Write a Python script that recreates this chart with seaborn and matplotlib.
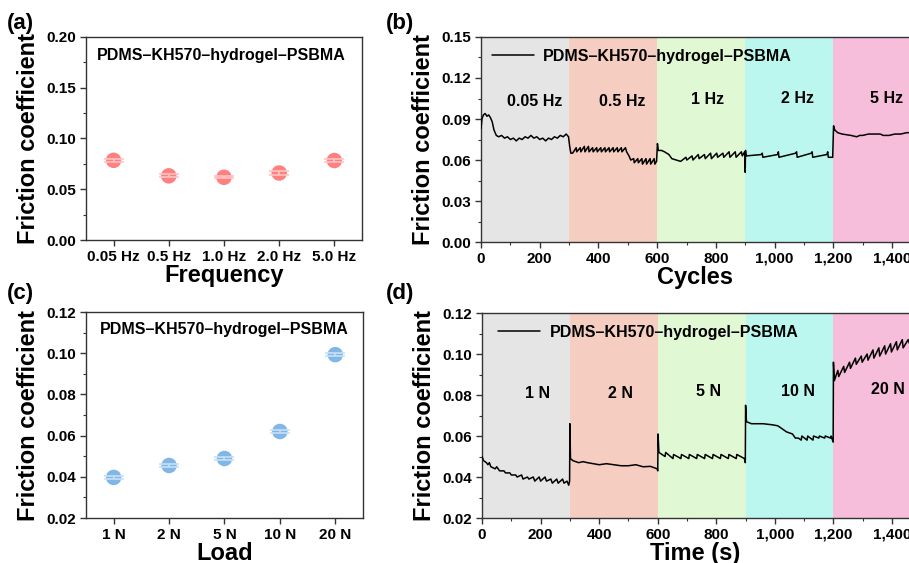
import numpy as np
import pandas as pd
import matplotlib
matplotlib.use('Agg')
import matplotlib.pyplot as plt
import matplotlib.ticker as mticker
import seaborn as sns

sns.set_theme(style='ticks')
plt.rcParams['font.family'] = ['Liberation Sans', 'DejaVu Sans']
plt.rcParams['font.weight'] = 'bold'
plt.rcParams['axes.labelweight'] = 'bold'
plt.rcParams['text.color'] = 'black'
plt.rcParams['axes.labelcolor'] = 'black'
plt.rcParams['xtick.labelcolor'] = 'black'
plt.rcParams['ytick.labelcolor'] = 'black'

sample_name = 'PDMS\u2013KH570\u2013hydrogel\u2013PSBMA'

# (a) friction vs frequency
freq_labels = ['0.05 Hz', '0.5 Hz', '1.0 Hz', '2.0 Hz', '5.0 Hz']
freq_cof = [0.0785, 0.0632, 0.0618, 0.0660, 0.0783]
freq_err = [0.0015, 0.0015, 0.0010, 0.0016, 0.0012]

# (c) friction vs load
load_labels = ['1 N', '2 N', '5 N', '10 N', '20 N']
load_cof = [0.0397, 0.0455, 0.0489, 0.0620, 0.0993]
load_err = [0.0006, 0.0006, 0.0008, 0.0006, 0.0006]

# (b) friction trace vs cycles
cyc_x = [0, 3, 8, 14, 20, 26, 32, 38, 44, 52, 60, 70, 80, 90, 100, 110, 120, 130, 140, 150,
         160, 170, 180, 190, 200, 210, 220, 230, 240, 250, 260, 270, 280, 290, 298, 302, 306,
         312, 324, 326, 338, 340, 352, 354, 366, 368, 380, 382, 394, 396, 408, 410, 422, 424,
         436, 438, 450, 452, 464, 466, 478, 480, 492, 496, 504, 510, 520, 522, 534, 536, 548,
         550, 562, 564, 576, 578, 590, 592, 598,
         601, 604, 615, 625, 640, 650, 665, 680, 698, 701, 719, 722, 740, 743, 761, 764, 782,
         785, 803, 806, 824, 827, 845, 848, 866, 869, 887, 890, 898,
         900, 901, 903, 955, 958, 960, 1010, 1013, 1015, 1072, 1075, 1077, 1125, 1128, 1130,
         1178, 1181, 1183, 1198,
         1201, 1205, 1215, 1230, 1260, 1280, 1290, 1300, 1320, 1340, 1360, 1370, 1390, 1410,
         1430, 1450, 1460]
cyc_y = [0.083, 0.090, 0.093, 0.094, 0.092, 0.093, 0.091, 0.088, 0.082, 0.078, 0.077, 0.078,
         0.076, 0.077, 0.075, 0.076, 0.074, 0.076, 0.075, 0.077, 0.076, 0.078, 0.076, 0.077,
         0.075, 0.076, 0.074, 0.076, 0.075, 0.077, 0.076, 0.078, 0.077, 0.079, 0.077, 0.070,
         0.065,
         0.065, 0.069, 0.066, 0.069, 0.066, 0.070, 0.066, 0.070, 0.066, 0.069, 0.066, 0.069,
         0.066, 0.069, 0.066, 0.069, 0.066, 0.069, 0.066, 0.069, 0.066, 0.069, 0.066, 0.069,
         0.066, 0.069, 0.066, 0.063, 0.060, 0.061, 0.058, 0.061, 0.058, 0.061, 0.057, 0.061,
         0.057, 0.061, 0.057, 0.061, 0.057, 0.059,
         0.072, 0.067, 0.067, 0.066, 0.064, 0.061, 0.060, 0.059, 0.062, 0.060, 0.063, 0.060,
         0.064, 0.061, 0.064, 0.061, 0.065, 0.061, 0.065, 0.062, 0.065, 0.062, 0.066, 0.062,
         0.066, 0.062, 0.066, 0.063, 0.066,
         0.051, 0.067, 0.063, 0.064, 0.065, 0.062, 0.064, 0.066, 0.062, 0.065, 0.066, 0.062,
         0.065, 0.066, 0.062, 0.064, 0.066, 0.062, 0.062,
         0.085, 0.082, 0.080, 0.079, 0.078, 0.077, 0.078, 0.078, 0.079, 0.079, 0.079, 0.078,
         0.078, 0.079, 0.079, 0.080, 0.080]

# (d) friction trace vs time
time_x = [0, 5, 15, 20, 25, 30, 45, 50, 60, 75, 80, 95, 100, 115, 120, 135, 140, 155, 160, 175,
          180, 195, 200, 215, 220, 235, 240, 255, 260, 275, 280, 290, 296, 299,
          300, 302, 310, 330, 345, 360, 380, 400, 425, 450, 475, 500, 525, 550, 575, 598,
          600, 601, 604, 625, 627, 652, 654, 679, 681, 706, 708, 733, 735, 760, 762, 787, 789,
          814, 816, 841, 843, 868, 870, 896, 899,
          900, 903, 920, 960, 990, 1010, 1020, 1030, 1040, 1050, 1060, 1070, 1080, 1090, 1092,
          1110, 1112, 1130, 1132, 1150, 1152, 1170, 1172, 1190, 1192, 1199,
          1200, 1203, 1215, 1218, 1235, 1238, 1255, 1258, 1275, 1278, 1295, 1298, 1315, 1318,
          1335, 1338, 1355, 1358, 1375, 1378, 1395, 1398, 1415, 1418, 1435, 1438, 1455, 1460]
time_y = [0.050, 0.048, 0.047, 0.046, 0.047, 0.045, 0.044, 0.045, 0.043, 0.043, 0.042, 0.042,
          0.041, 0.041, 0.040, 0.041, 0.039, 0.040, 0.039, 0.040, 0.038, 0.040, 0.038, 0.040,
          0.038, 0.039, 0.037, 0.039, 0.037, 0.039, 0.037, 0.038, 0.036, 0.038,
          0.066, 0.049, 0.048, 0.047, 0.0475, 0.047, 0.0465, 0.046, 0.0465, 0.046, 0.0455,
          0.0455, 0.046, 0.045, 0.0452, 0.044,
          0.043, 0.061, 0.052, 0.050, 0.052, 0.049, 0.051, 0.049, 0.051, 0.049, 0.051, 0.049,
          0.051, 0.049, 0.051, 0.049, 0.051, 0.049, 0.051, 0.049, 0.051, 0.049, 0.051, 0.049,
          0.047,
          0.075, 0.067, 0.066, 0.066, 0.0655, 0.065, 0.064, 0.063, 0.062, 0.0615, 0.061, 0.059,
          0.059, 0.058, 0.060, 0.058, 0.060, 0.058, 0.060, 0.059, 0.060, 0.059, 0.060, 0.059,
          0.060, 0.057,
          0.096, 0.087, 0.092, 0.089, 0.094, 0.091, 0.096, 0.093, 0.098, 0.095, 0.099, 0.096,
          0.100, 0.097, 0.102, 0.098, 0.103, 0.099, 0.104, 0.100, 0.105, 0.101, 0.106, 0.102,
          0.107, 0.103, 0.107, 0.105]

stage_edges = [0, 300, 600, 900, 1200, 1500]
stage_colors = ['#e5e5e5', '#f6cdc1', '#e1f8d4', '#bcf7ef', '#f7bedb']
freq_stage = ['0.05 Hz', '0.5 Hz', '1 Hz', '2 Hz', '5 Hz']
freq_stage_pos = [(184, 0.1025), (482, 0.1025), (773, 0.1045), (1077, 0.1048), (1380, 0.1052)]
load_stage = ['1 N', '2 N', '5 N', '10 N', '20 N']
load_stage_pos = [(191, 0.0805), (472, 0.0808), (774, 0.0815), (1078, 0.0815), (1385, 0.0828)]

fig = plt.figure(figsize=(9.09, 5.63), dpi=100)
ax_a = fig.add_axes([0.0946, 0.5737, 0.3036, 0.3606])
ax_b = fig.add_axes([0.5292, 0.5701, 0.4708, 0.3642])
ax_c = fig.add_axes([0.0946, 0.0799, 0.3047, 0.3659])
ax_d = fig.add_axes([0.5303, 0.0799, 0.4697, 0.3641])

tick_fs = 11
label_fs = 17


def style_axes(ax):
    for side in ['top', 'bottom', 'left', 'right']:
        ax.spines[side].set_color('#333333')
        ax.spines[side].set_linewidth(1.0)
    ax.tick_params(which='major', direction='out', length=4, width=1, colors='#333333',
                   labelsize=tick_fs, labelcolor='black', pad=3)
    ax.tick_params(which='minor', direction='out', length=2.5, width=0.8, colors='#333333')
    ax.tick_params(top=False, right=False, which='both')
    for lab in ax.get_xticklabels() + ax.get_yticklabels():
        lab.set_fontweight('bold')
        lab.set_color('black')


def point_panel(ax, labels, vals, errs, color, light, ylim, ystep, yfmt, xlabel):
    df = pd.DataFrame({'cat': labels, 'cof': vals})
    sns.scatterplot(data=df, x='cat', y='cof', ax=ax, color=color, s=125,
                    edgecolor='none', zorder=3, legend=False)
    ax.errorbar(range(len(labels)), vals, yerr=errs, fmt='none', ecolor=light,
                elinewidth=1.2, capsize=7, capthick=1.2, zorder=4)
    ax.set_xlim(-0.5, len(labels) - 0.5)
    ax.set_ylim(*ylim)
    ax.yaxis.set_major_locator(mticker.MultipleLocator(ystep))
    ax.yaxis.set_minor_locator(mticker.MultipleLocator(ystep / 2))
    ax.yaxis.set_major_formatter(mticker.FormatStrFormatter(yfmt))
    ax.set_xlabel(xlabel, fontsize=label_fs, fontweight='bold', labelpad=0)
    ax.set_ylabel('Friction coefficient', fontsize=label_fs, fontweight='bold', labelpad=5)
    style_axes(ax)


point_panel(ax_a, freq_labels, freq_cof, freq_err, '#ff8080', '#ffc4c4',
            (0, 0.2), 0.05, '%.2f', 'Frequency')
ax_a.text(0.04, 0.91, sample_name, transform=ax_a.transAxes, fontsize=11.5,
          fontweight='bold', va='center', ha='left')

point_panel(ax_c, load_labels, load_cof, load_err, '#80b7e6', '#c8e0f5',
            (0.02, 0.12), 0.02, '%.2f', 'Load')
ax_c.text(0.05, 0.917, sample_name, transform=ax_c.transAxes, fontsize=11.5,
          fontweight='bold', va='center', ha='left')


def trace_panel(ax, xs, ys, ylim, ystep, xlabel, stage_names, stage_pos, legend_x):
    for i in range(len(stage_colors)):
        ax.axvspan(stage_edges[i], stage_edges[i + 1], color=stage_colors[i], lw=0, zorder=0)
    df = pd.DataFrame({'x': xs, 'y': ys})
    sns.lineplot(data=df, x='x', y='y', ax=ax, color='black', lw=1.1, sort=False,
                 estimator=None, label=sample_name, zorder=3)
    for name, (px, py) in zip(stage_names, stage_pos):
        ax.text(px, py, name, fontsize=11.5, fontweight='bold', ha='center', va='center')
    ax.set_xlim(0, 1458)
    ax.set_ylim(*ylim)
    ax.xaxis.set_major_locator(mticker.MultipleLocator(200))
    ax.xaxis.set_minor_locator(mticker.MultipleLocator(100))
    ax.xaxis.set_major_formatter(mticker.FuncFormatter(lambda v, p: f'{v:,.0f}'))
    ax.yaxis.set_major_locator(mticker.MultipleLocator(ystep))
    ax.yaxis.set_minor_locator(mticker.MultipleLocator(ystep / 2))
    ax.yaxis.set_major_formatter(mticker.FormatStrFormatter('%.2f'))
    ax.set_xlabel(xlabel, fontsize=label_fs, fontweight='bold', labelpad=0)
    ax.set_ylabel('Friction coefficient', fontsize=label_fs, fontweight='bold', labelpad=5)
    ax.legend(loc='upper left', bbox_to_anchor=(legend_x, 1.0), frameon=False,
              handlelength=2.6, handletextpad=0.6, borderaxespad=0.35,
              prop={'size': 11.5, 'weight': 'bold'})
    ax.spines['right'].set_visible(False)
    style_axes(ax)


trace_panel(ax_b, cyc_x, cyc_y, (0, 0.15), 0.03, 'Cycles', freq_stage, freq_stage_pos, -0.002)
trace_panel(ax_d, time_x, time_y, (0.02, 0.12), 0.02, 'Time (s)', load_stage, load_stage_pos, 0.01)

for lab, (fx, fy) in zip(['(a)', '(b)', '(c)', '(d)'],
                         [(0.008, 0.958), (0.424, 0.958), (0.008, 0.479), (0.424, 0.479)]):
    fig.text(fx, fy, lab, fontsize=16, fontweight='bold', va='center', ha='left')

fig.savefig('out.png', dpi=100)
